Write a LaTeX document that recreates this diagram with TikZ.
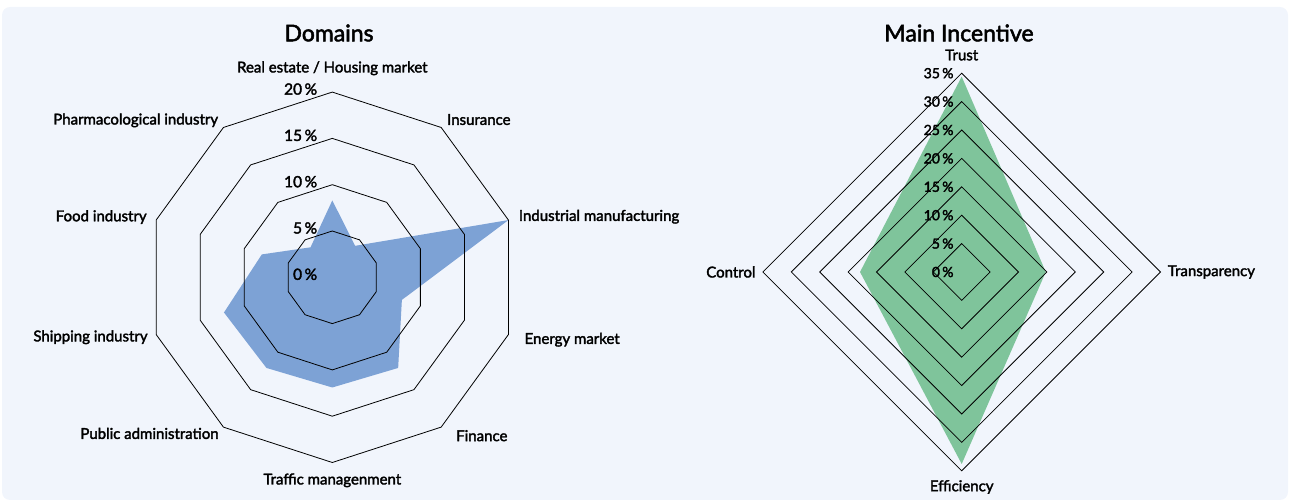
\documentclass[tikz,border=0pt]{standalone}
\usepackage{fontspec}
\setmainfont{Lato}[FakeBold=2.2]
\usetikzlibrary{positioning,calc}

\definecolor{panelbg}{HTML}{F1F5FC}
\definecolor{domainblue}{HTML}{7DA2D5}
\definecolor{incentivegreen}{HTML}{7FC49B}

\begin{document}
\begin{tikzpicture}[x=1pt,y=1pt,
    ring/.style={draw=black, line width=0.8pt},
    axislabel/.style={font=\fontsize{15}{17}\selectfont, inner sep=0pt},
    ticklabel/.style={font=\fontsize{15.5}{17}\selectfont, inner sep=0pt, anchor=east},
    smalltick/.style={font=\fontsize{14}{16}\selectfont, inner sep=0pt, anchor=east},
    charttitle/.style={font=\fontsize{23}{26}\selectfont, inner sep=0pt}]
\useasboundingbox (0,0) rectangle (1290,502);
\fill[panelbg, rounded corners=8pt] (2,2) rectangle (1288,495);

% Domains
\node (domains) [charttitle] at (329,469) {Domains};
\begin{scope}[shift={(332.3,224.7)}]
    \fill[domainblue] (90:8.3*9.26)
        \foreach \a/\v in {54/4.2, 18/20, -18/7.9, -54/12.1, -90/11.9, -126/12.1, -162/12.3, 162/8, 126/4}
            {-- (\a:\v*9.26)} -- cycle;
    \foreach \r in {1,...,4}
        \draw[ring] (90:\r*46.3) \foreach \k in {1,...,9}{-- (90+\k*36:\r*46.3)} -- cycle;
    \foreach \p in {0,...,4}
        \node (dtick\p) [ticklabel] at (-15,\p*46.3+3) {\the\numexpr\p*5\relax\,\%};
    \node (realestate) [axislabel] at (90:209) {Real estate / Housing market};
    \node (insurance) [axislabel, anchor=west] at (54:195) {Insurance};
    \node (industrial) [axislabel, anchor=west] at (18:196) {Industrial manufacturing};
    \node (energy) [axislabel, anchor=west] at (-18:202) {Energy market};
    \node (finance) [axislabel, anchor=west] at (-52:201) {Finance};
    \node (traffic) [axislabel] at (-90:203) {Traffic managenment};
    \node (public) [axislabel, anchor=east] at (-126:193) {Public administration};
    \node (shipping) [axislabel, anchor=east] at (198:194) {Shipping industry};
    \node (food) [axislabel, anchor=east] at (162:195) {Food industry};
    \node (pharma) [axislabel, anchor=east] at (126:194) {Pharmacological industry};
\end{scope}

% Main Incentive
\node (incentive) [charttitle] at (959,469) {Main Incentive};
\begin{scope}[shift={(961.7,230)}]
    \fill[incentivegreen] (90:34.4*5.68) -- (0:14.8*5.68) -- (-90:33.8*5.68) -- (180:17.9*5.68) -- cycle;
    \foreach \r in {1,...,7}
        \draw[ring] (90:\r*28.4) -- (0:\r*28.4) -- (-90:\r*28.4) -- (180:\r*28.4) -- cycle;
    \foreach \p in {0,...,7}
        \node (itick\p) [smalltick] at (-8,\p*28.4) {\the\numexpr\p*5\relax\,\%};
    \node (trust) [axislabel] at (90:217) {Trust};
    \node (transparency) [axislabel, anchor=west] at (0:206) {Transparency};
    \node (efficiency) [axislabel] at (-90:215) {Efficiency};
    \node (control) [axislabel, anchor=east] at (180:206) {Control};
\end{scope}
\end{tikzpicture}
\end{document}
